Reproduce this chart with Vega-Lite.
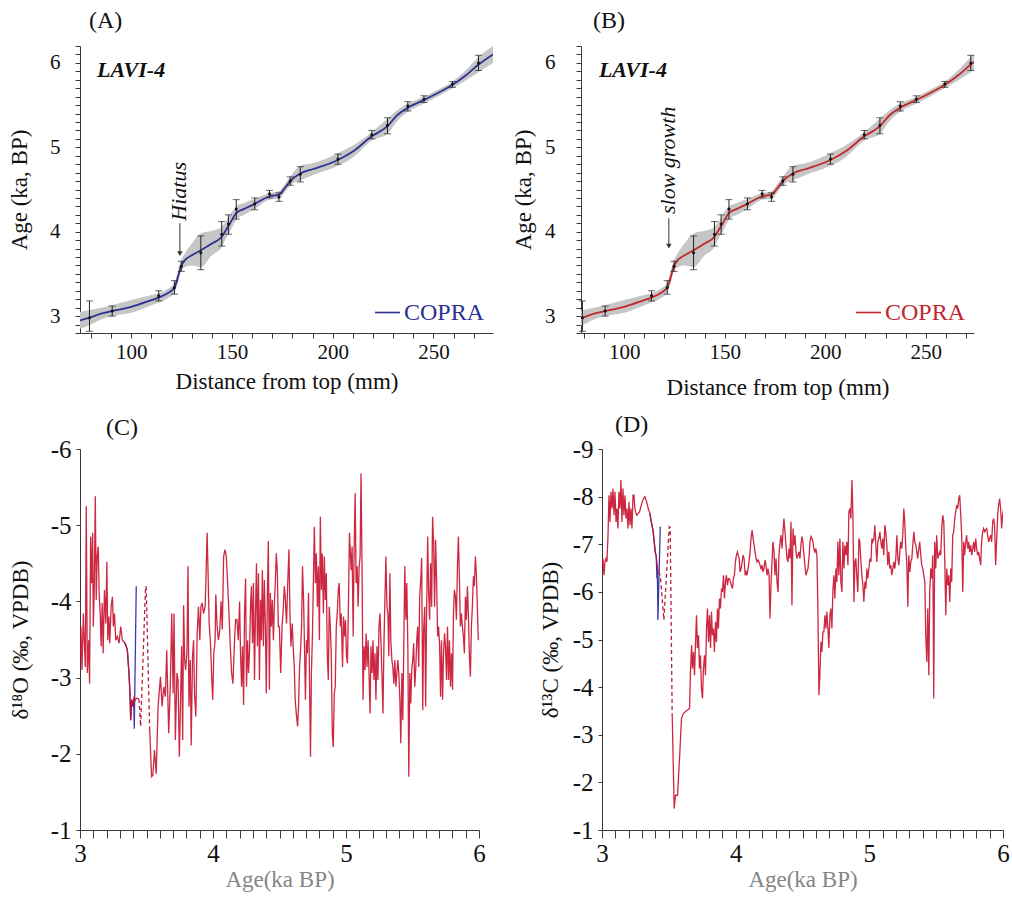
{
"$schema": "https://vega.github.io/schema/vega-lite/v6.json",
"padding": {"left": 8, "top": 8, "right": 5, "bottom": 5},
"config": {
 "font": "Liberation Serif",
 "view": {"stroke": null},
 "axis": {"labelFont": "Liberation Serif", "titleFont": "Liberation Serif", "grid": false, "domainColor": "#3a3a3a", "tickColor": "#3a3a3a", "labelColor": "#111", "titleColor": "#111", "titleFontWeight": "normal", "labelFlush": false, "labelOverlap": false},
 "title": {"font": "Liberation Serif", "fontWeight": "normal", "fontSize": 24, "anchor": "start", "frame": "group", "baseline": "alphabetic", "color": "#111"},
 "legend": {"orient": "bottom-right", "title": null, "symbolType": "stroke", "symbolSize": 625, "symbolStrokeWidth": 1.6, "labelFontSize": 24, "labelFont": "Liberation Serif", "offset": 8, "padding": 0, "labelOffset": 3}
},
"datasets": {
 "ages": [
  {"d":79.2,"m":2.98,"lo":2.82,"hi":3.18},{"d":90.5,"m":3.06,"lo":3.0,"hi":3.12},{"d":113.6,"m":3.24,"lo":3.18,"hi":3.3},{"d":121.4,"m":3.34,"lo":3.26,"hi":3.42},{"d":124.8,"m":3.59,"lo":3.53,"hi":3.65},{"d":134.5,"m":3.75,"lo":3.55,"hi":3.95},{"d":144.9,"m":3.97,"lo":3.83,"hi":4.12},{"d":148.2,"m":4.09,"lo":3.97,"hi":4.2},{"d":152.1,"m":4.27,"lo":4.15,"hi":4.38},{"d":161.3,"m":4.33,"lo":4.26,"hi":4.4},{"d":168.6,"m":4.45,"lo":4.4,"hi":4.49},{"d":173.3,"m":4.41,"lo":4.36,"hi":4.46},{"d":178.9,"m":4.6,"lo":4.55,"hi":4.65},{"d":183.9,"m":4.68,"lo":4.59,"hi":4.77},{"d":202.6,"m":4.86,"lo":4.8,"hi":4.92},{"d":219.4,"m":5.15,"lo":5.1,"hi":5.2},{"d":227.2,"m":5.26,"lo":5.16,"hi":5.35},{"d":237.3,"m":5.49,"lo":5.43,"hi":5.54},{"d":245.3,"m":5.57,"lo":5.53,"hi":5.61},{"d":259.5,"m":5.75,"lo":5.71,"hi":5.78},{"d":272.4,"m":6.0,"lo":5.91,"hi":6.09}
 ],
 "model": [
  {"d":74.5,"m":2.95,"l":2.85,"h":3.05},{"d":79,"m":2.98,"l":2.89,"h":3.07},{"d":85,"m":3.03,"l":2.96,"h":3.1},{"d":90.5,"m":3.06,"l":3.0,"h":3.13},{"d":100,"m":3.11,"l":3.04,"h":3.19},{"d":110,"m":3.19,"l":3.13,"h":3.25},{"d":113.6,"m":3.22,"l":3.16,"h":3.27},{"d":118,"m":3.27,"l":3.21,"h":3.32},{"d":121.4,"m":3.34,"l":3.28,"h":3.4},{"d":123,"m":3.45,"l":3.38,"h":3.52},{"d":124.5,"m":3.58,"l":3.52,"h":3.65},{"d":126.5,"m":3.66,"l":3.58,"h":3.74},{"d":130,"m":3.72,"l":3.6,"h":3.86},{"d":134.5,"m":3.78,"l":3.58,"h":3.98},{"d":140,"m":3.86,"l":3.72,"h":4.01},{"d":144.9,"m":3.94,"l":3.82,"h":4.06},{"d":147,"m":4.02,"l":3.92,"h":4.12},{"d":149,"m":4.1,"l":4.0,"h":4.2},{"d":152.1,"m":4.22,"l":4.14,"h":4.3},{"d":156,"m":4.27,"l":4.2,"h":4.34},{"d":161.3,"m":4.33,"l":4.27,"h":4.39},{"d":168.6,"m":4.42,"l":4.38,"h":4.46},{"d":173.3,"m":4.44,"l":4.39,"h":4.48},{"d":176,"m":4.51,"l":4.46,"h":4.56},{"d":178.9,"m":4.6,"l":4.55,"h":4.65},{"d":183.9,"m":4.69,"l":4.61,"h":4.78},{"d":190,"m":4.74,"l":4.67,"h":4.81},{"d":202.6,"m":4.85,"l":4.78,"h":4.93},{"d":210,"m":4.95,"l":4.88,"h":5.02},{"d":219.4,"m":5.13,"l":5.08,"h":5.18},{"d":227.2,"m":5.25,"l":5.16,"h":5.34},{"d":232,"m":5.38,"l":5.31,"h":5.44},{"d":237.3,"m":5.47,"l":5.42,"h":5.52},{"d":245.3,"m":5.56,"l":5.52,"h":5.6},{"d":252,"m":5.64,"l":5.6,"h":5.68},{"d":259.5,"m":5.74,"l":5.7,"h":5.78},{"d":266,"m":5.85,"l":5.79,"h":5.91},{"d":272.4,"m":5.98,"l":5.89,"h":6.07},{"d":279.6,"m":6.1,"l":6.0,"h":6.2}
 ],
 "o18": [
  {"s":1,"a":3.000,"v":-3.23},{"s":1,"a":3.007,"v":-3.67},{"s":1,"a":3.015,"v":-3.10},{"s":1,"a":3.025,"v":-3.84},{"s":1,"a":3.032,"v":-3.49},{"s":1,"a":3.040,"v":-3.14},{"s":1,"a":3.047,"v":-5.25},{"s":1,"a":3.055,"v":-3.06},{"s":1,"a":3.065,"v":-3.49},{"s":1,"a":3.072,"v":-2.92},{"s":1,"a":3.080,"v":-4.85},{"s":1,"a":3.087,"v":-4.24},{"s":1,"a":3.095,"v":-4.90},{"s":1,"a":3.100,"v":-3.67},{"s":1,"a":3.107,"v":-4.15},{"s":1,"a":3.115,"v":-5.38},{"s":1,"a":3.122,"v":-4.02},{"s":1,"a":3.129,"v":-4.59},{"s":1,"a":3.137,"v":-4.72},{"s":1,"a":3.144,"v":-4.11},{"s":1,"a":3.152,"v":-3.84},{"s":1,"a":3.159,"v":-3.41},{"s":1,"a":3.167,"v":-3.98},{"s":1,"a":3.174,"v":-3.32},{"s":1,"a":3.184,"v":-4.15},{"s":1,"a":3.194,"v":-3.71},{"s":1,"a":3.202,"v":-4.52},{"s":1,"a":3.209,"v":-3.49},{"s":1,"a":3.217,"v":-3.80},{"s":1,"a":3.224,"v":-3.45},{"s":1,"a":3.234,"v":-3.93},{"s":1,"a":3.244,"v":-4.06},{"s":1,"a":3.251,"v":-3.67},{"s":1,"a":3.259,"v":-3.84},{"s":1,"a":3.269,"v":-3.49},{"s":1,"a":3.281,"v":-3.54},{"s":1,"a":3.294,"v":-3.45},{"s":1,"a":3.306,"v":-3.67},{"s":1,"a":3.319,"v":-3.49},{"s":1,"a":3.331,"v":-3.47},{"s":1,"a":3.344,"v":-3.43},{"s":1,"a":3.356,"v":-3.36},{"s":1,"a":3.368,"v":-3.06},{"s":1,"a":3.376,"v":-2.79},{"s":1,"a":3.381,"v":-2.44},{"s":1,"a":3.388,"v":-2.71},{"s":1,"a":3.398,"v":-2.62},{"s":1,"a":3.406,"v":-2.75},{"s":1,"a":3.413,"v":-2.70},{"s":1,"a":3.425,"v":-2.73},{"s":1,"a":3.443,"v":-2.72},
  {"s":2,"a":3.523,"v":-2.36},{"s":2,"a":3.538,"v":-1.70},{"s":2,"a":3.548,"v":-1.72},{"s":2,"a":3.560,"v":-2.05},{"s":2,"a":3.573,"v":-1.74},{"s":2,"a":3.587,"v":-2.62},{"s":2,"a":3.605,"v":-3.01},{"s":2,"a":3.617,"v":-2.62},{"s":2,"a":3.630,"v":-2.88},{"s":2,"a":3.642,"v":-2.75},{"s":2,"a":3.652,"v":-3.36},{"s":2,"a":3.667,"v":-2.27},{"s":2,"a":3.680,"v":-2.97},{"s":2,"a":3.690,"v":-3.84},{"s":2,"a":3.700,"v":-2.79},{"s":2,"a":3.707,"v":-3.84},{"s":2,"a":3.717,"v":-2.18},{"s":2,"a":3.729,"v":-3.06},{"s":2,"a":3.737,"v":-2.97},{"s":2,"a":3.747,"v":-1.96},{"s":2,"a":3.757,"v":-2.79},{"s":2,"a":3.764,"v":-3.41},{"s":2,"a":3.772,"v":-2.18},{"s":2,"a":3.779,"v":-3.95},{"s":2,"a":3.787,"v":-3.23},{"s":2,"a":3.794,"v":-3.10},{"s":2,"a":3.804,"v":-3.32},{"s":2,"a":3.812,"v":-4.46},{"s":2,"a":3.819,"v":-2.62},{"s":2,"a":3.829,"v":-3.23},{"s":2,"a":3.836,"v":-2.11},{"s":2,"a":3.846,"v":-3.28},{"s":2,"a":3.854,"v":-3.49},{"s":2,"a":3.861,"v":-2.79},{"s":2,"a":3.871,"v":-2.49},{"s":2,"a":3.881,"v":-3.58},{"s":2,"a":3.891,"v":-3.93},{"s":2,"a":3.901,"v":-3.49},{"s":2,"a":3.909,"v":-3.93},{"s":2,"a":3.919,"v":-3.98},{"s":2,"a":3.929,"v":-3.84},{"s":2,"a":3.941,"v":-3.93},{"s":2,"a":3.948,"v":-4.37},{"s":2,"a":3.956,"v":-4.90},{"s":2,"a":3.963,"v":-4.37},{"s":2,"a":3.971,"v":-3.71},{"s":2,"a":3.981,"v":-3.45},{"s":2,"a":3.991,"v":-2.97},{"s":2,"a":3.998,"v":-2.71},{"s":2,"a":4.006,"v":-3.32},{"s":2,"a":4.016,"v":-3.49},
  {"s":2,"a":4.021,"v":-4.09},{"s":2,"a":4.031,"v":-3.67},{"s":2,"a":4.041,"v":-3.49},{"s":2,"a":4.051,"v":-3.63},{"s":2,"a":4.061,"v":-4.00},{"s":2,"a":4.070,"v":-3.63},{"s":2,"a":4.080,"v":-4.59},{"s":2,"a":4.090,"v":-4.68},{"s":2,"a":4.100,"v":-4.59},{"s":2,"a":4.110,"v":-4.24},{"s":2,"a":4.120,"v":-3.84},{"s":2,"a":4.130,"v":-3.41},{"s":2,"a":4.140,"v":-3.06},{"s":2,"a":4.150,"v":-2.92},{"s":2,"a":4.160,"v":-3.41},{"s":2,"a":4.170,"v":-3.76},{"s":2,"a":4.180,"v":-3.76},{"s":2,"a":4.190,"v":-3.49},{"s":2,"a":4.200,"v":-4.00},{"s":2,"a":4.207,"v":-3.32},{"s":2,"a":4.215,"v":-2.88},{"s":2,"a":4.222,"v":-3.41},{"s":2,"a":4.230,"v":-2.64},{"s":2,"a":4.237,"v":-3.84},{"s":2,"a":4.245,"v":-4.30},{"s":2,"a":4.252,"v":-2.88},{"s":2,"a":4.260,"v":-3.49},{"s":2,"a":4.267,"v":-3.06},{"s":2,"a":4.274,"v":-3.32},{"s":2,"a":4.282,"v":-3.93},{"s":2,"a":4.289,"v":-4.20},{"s":2,"a":4.297,"v":-3.45},{"s":2,"a":4.304,"v":-4.24},{"s":2,"a":4.312,"v":-2.97},{"s":2,"a":4.319,"v":-3.80},{"s":2,"a":4.327,"v":-4.50},{"s":2,"a":4.334,"v":-3.41},{"s":2,"a":4.342,"v":-4.37},{"s":2,"a":4.349,"v":-2.97},{"s":2,"a":4.357,"v":-4.02},{"s":2,"a":4.364,"v":-3.49},{"s":2,"a":4.371,"v":-4.41},{"s":2,"a":4.379,"v":-3.41},{"s":2,"a":4.386,"v":-4.28},{"s":2,"a":4.394,"v":-3.67},{"s":2,"a":4.401,"v":-2.79},{"s":2,"a":4.409,"v":-4.11},{"s":2,"a":4.416,"v":-4.79},{"s":2,"a":4.424,"v":-2.84},{"s":2,"a":4.431,"v":-4.11},{"s":2,"a":4.439,"v":-3.67},{"s":2,"a":4.446,"v":-4.02},{"s":2,"a":4.454,"v":-3.49},{"s":2,"a":4.461,"v":-3.93},{"s":2,"a":4.469,"v":-4.28},{"s":2,"a":4.476,"v":-4.63},{"s":2,"a":4.484,"v":-4.37},{"s":2,"a":4.491,"v":-3.67},{"s":2,"a":4.499,"v":-3.67},{"s":2,"a":4.509,"v":-3.06},{"s":2,"a":4.519,"v":-3.67},{"s":2,"a":4.528,"v":-3.89},{"s":2,"a":4.536,"v":-4.20},{"s":2,"a":4.543,"v":-4.06},{"s":2,"a":4.553,"v":-3.71},{"s":2,"a":4.561,"v":-4.20},{"s":2,"a":4.571,"v":-4.68},{"s":2,"a":4.578,"v":-3.89},{"s":2,"a":4.586,"v":-3.41},{"s":2,"a":4.596,"v":-3.71},{"s":2,"a":4.603,"v":-3.41},{"s":2,"a":4.611,"v":-3.14},{"s":2,"a":4.618,"v":-2.71},{"s":2,"a":4.626,"v":-2.53},{"s":2,"a":4.636,"v":-2.36},{"s":2,"a":4.643,"v":-2.62},{"s":2,"a":4.651,"v":-3.14},{"s":2,"a":4.658,"v":-3.36},{"s":2,"a":4.666,"v":-3.67},{"s":2,"a":4.673,"v":-4.46},{"s":2,"a":4.681,"v":-4.02},{"s":2,"a":4.688,"v":-3.41},{"s":2,"a":4.695,"v":-2.71},{"s":2,"a":4.703,"v":-3.49},{"s":2,"a":4.710,"v":-3.32},{"s":2,"a":4.718,"v":-4.11},{"s":2,"a":4.725,"v":-3.06},{"s":2,"a":4.733,"v":-1.96},{"s":2,"a":4.740,"v":-3.06},{"s":2,"a":4.748,"v":-3.58},{"s":2,"a":4.755,"v":-4.28},{"s":2,"a":4.762,"v":-4.98},{"s":2,"a":4.770,"v":-4.24},{"s":2,"a":4.777,"v":-4.63},{"s":2,"a":4.785,"v":-3.93},{"s":2,"a":4.792,"v":-4.46},{"s":2,"a":4.800,"v":-3.49},{"s":2,"a":4.807,"v":-5.11},{"s":2,"a":4.815,"v":-4.15},{"s":2,"a":4.822,"v":-4.63},{"s":2,"a":4.830,"v":-3.84},{"s":2,"a":4.837,"v":-4.59},{"s":2,"a":4.845,"v":-4.02},{"s":2,"a":4.852,"v":-4.37},{"s":2,"a":4.859,"v":-3.32},{"s":2,"a":4.867,"v":-2.97},{"s":2,"a":4.874,"v":-3.93},{"s":2,"a":4.882,"v":-3.67},{"s":2,"a":4.889,"v":-3.32},{"s":2,"a":4.897,"v":-2.27},{"s":2,"a":4.904,"v":-2.09},{"s":2,"a":4.912,"v":-2.79},{"s":2,"a":4.919,"v":-2.88},{"s":2,"a":4.927,"v":-3.67},{"s":2,"a":4.934,"v":-3.84},{"s":2,"a":4.942,"v":-4.15},{"s":2,"a":4.949,"v":-4.24},{"s":2,"a":4.957,"v":-3.67},{"s":2,"a":4.964,"v":-3.84},{"s":2,"a":4.974,"v":-3.14},{"s":2,"a":4.981,"v":-3.80},{"s":2,"a":4.989,"v":-3.54},{"s":2,"a":4.996,"v":-3.76},{"s":2,"a":5.004,"v":-3.28},{"s":2,"a":5.011,"v":-3.19},{"s":2,"a":5.018,"v":-3.93},{"s":2,"a":5.026,"v":-4.90},
  {"s":2,"a":5.039,"v":-4.41},{"s":2,"a":5.046,"v":-4.72},{"s":2,"a":5.054,"v":-3.54},{"s":2,"a":5.061,"v":-4.68},{"s":2,"a":5.069,"v":-5.42},{"s":2,"a":5.076,"v":-4.24},{"s":2,"a":5.084,"v":-4.46},{"s":2,"a":5.091,"v":-3.93},{"s":2,"a":5.099,"v":-4.46},{"s":2,"a":5.106,"v":-4.59},{"s":2,"a":5.113,"v":-5.68},{"s":2,"a":5.121,"v":-4.37},{"s":2,"a":5.128,"v":-2.71},{"s":2,"a":5.136,"v":-3.41},{"s":2,"a":5.143,"v":-3.10},{"s":2,"a":5.151,"v":-3.58},{"s":2,"a":5.158,"v":-3.14},{"s":2,"a":5.166,"v":-3.49},{"s":2,"a":5.173,"v":-3.06},{"s":2,"a":5.181,"v":-2.53},{"s":2,"a":5.188,"v":-3.41},{"s":2,"a":5.196,"v":-3.06},{"s":2,"a":5.203,"v":-3.49},{"s":2,"a":5.210,"v":-2.97},{"s":2,"a":5.218,"v":-3.32},{"s":2,"a":5.225,"v":-2.71},{"s":2,"a":5.233,"v":-3.41},{"s":2,"a":5.240,"v":-2.97},{"s":2,"a":5.248,"v":-3.67},{"s":2,"a":5.255,"v":-3.84},{"s":2,"a":5.263,"v":-3.45},{"s":2,"a":5.270,"v":-3.06},{"s":2,"a":5.278,"v":-2.53},{"s":2,"a":5.285,"v":-3.41},{"s":2,"a":5.293,"v":-4.06},{"s":2,"a":5.300,"v":-4.59},{"s":2,"a":5.308,"v":-3.93},{"s":2,"a":5.315,"v":-3.84},{"s":2,"a":5.322,"v":-3.28},{"s":2,"a":5.330,"v":-4.37},{"s":2,"a":5.337,"v":-3.49},{"s":2,"a":5.345,"v":-3.23},{"s":2,"a":5.352,"v":-3.14},{"s":2,"a":5.360,"v":-2.92},{"s":2,"a":5.367,"v":-3.23},{"s":2,"a":5.375,"v":-2.88},{"s":2,"a":5.382,"v":-3.06},{"s":2,"a":5.390,"v":-3.23},{"s":2,"a":5.397,"v":-3.06},{"s":2,"a":5.405,"v":-2.71},{"s":2,"a":5.412,"v":-2.14},{"s":2,"a":5.420,"v":-3.06},{"s":2,"a":5.427,"v":-2.44},{"s":2,"a":5.435,"v":-3.49},{"s":2,"a":5.442,"v":-4.46},{"s":2,"a":5.450,"v":-3.76},{"s":2,"a":5.457,"v":-4.24},{"s":2,"a":5.465,"v":-3.41},{"s":2,"a":5.472,"v":-1.70},{"s":2,"a":5.480,"v":-3.06},{"s":2,"a":5.487,"v":-2.66},{"s":2,"a":5.494,"v":-3.10},{"s":2,"a":5.502,"v":-3.23},{"s":2,"a":5.509,"v":-3.45},{"s":2,"a":5.517,"v":-2.88},{"s":2,"a":5.524,"v":-3.10},{"s":2,"a":5.532,"v":-3.49},{"s":2,"a":5.539,"v":-3.67},{"s":2,"a":5.547,"v":-3.14},{"s":2,"a":5.554,"v":-4.06},{"s":2,"a":5.562,"v":-4.28},{"s":2,"a":5.569,"v":-4.57},{"s":2,"a":5.577,"v":-2.57},{"s":2,"a":5.584,"v":-3.63},{"s":2,"a":5.592,"v":-3.93},{"s":2,"a":5.599,"v":-2.62},{"s":2,"a":5.606,"v":-3.84},{"s":2,"a":5.614,"v":-4.85},{"s":2,"a":5.621,"v":-4.15},{"s":2,"a":5.629,"v":-3.76},{"s":2,"a":5.636,"v":-4.50},{"s":2,"a":5.644,"v":-3.93},{"s":2,"a":5.651,"v":-5.11},{"s":2,"a":5.659,"v":-4.76},{"s":2,"a":5.666,"v":-3.93},{"s":2,"a":5.674,"v":-4.81},{"s":2,"a":5.681,"v":-4.28},{"s":2,"a":5.689,"v":-3.54},{"s":2,"a":5.696,"v":-3.67},{"s":2,"a":5.704,"v":-3.41},{"s":2,"a":5.711,"v":-2.75},{"s":2,"a":5.718,"v":-3.49},{"s":2,"a":5.726,"v":-2.71},{"s":2,"a":5.733,"v":-3.28},{"s":2,"a":5.741,"v":-3.58},{"s":2,"a":5.748,"v":-3.41},{"s":2,"a":5.756,"v":-2.97},{"s":2,"a":5.763,"v":-3.67},{"s":2,"a":5.771,"v":-2.97},{"s":2,"a":5.778,"v":-3.49},{"s":2,"a":5.786,"v":-2.88},{"s":2,"a":5.793,"v":-3.32},{"s":2,"a":5.801,"v":-2.84},{"s":2,"a":5.808,"v":-3.84},{"s":2,"a":5.815,"v":-4.15},{"s":2,"a":5.823,"v":-4.06},{"s":2,"a":5.830,"v":-3.76},{"s":2,"a":5.838,"v":-4.46},{"s":2,"a":5.845,"v":-4.85},{"s":2,"a":5.853,"v":-4.28},{"s":2,"a":5.860,"v":-3.67},{"s":2,"a":5.868,"v":-3.84},{"s":2,"a":5.875,"v":-3.67},{"s":2,"a":5.883,"v":-3.54},{"s":2,"a":5.890,"v":-3.32},{"s":2,"a":5.898,"v":-4.06},{"s":2,"a":5.905,"v":-3.76},{"s":2,"a":5.913,"v":-4.20},{"s":2,"a":5.920,"v":-3.84},{"s":2,"a":5.928,"v":-3.28},{"s":2,"a":5.935,"v":-3.01},{"s":2,"a":5.943,"v":-3.67},{"s":2,"a":5.950,"v":-3.93},{"s":2,"a":5.958,"v":-4.33},{"s":2,"a":5.965,"v":-4.20},{"s":2,"a":5.973,"v":-4.59},{"s":2,"a":5.980,"v":-4.37},{"s":2,"a":5.988,"v":-3.89},{"s":2,"a":5.995,"v":-3.49}
 ],
 "o18blue": [
  {"a":3.331,"v":-3.47},{"a":3.344,"v":-3.43},{"a":3.356,"v":-3.36},{"a":3.368,"v":-3.06},{"a":3.376,"v":-2.79},{"a":3.381,"v":-2.44},{"a":3.388,"v":-2.71},{"a":3.398,"v":-2.62},{"a":3.404,"v":-2.72},{"a":3.408,"v":-2.33},{"a":3.423,"v":-4.20}
 ],
 "o18dash": [
  {"a":3.443,"v":-2.72},{"a":3.456,"v":-2.36},{"a":3.493,"v":-4.20},{"a":3.498,"v":-4.18},{"a":3.523,"v":-2.36}
 ],
 "c13": [
  {"s":1,"a":3.000,"v":-6.49},{"s":1,"a":3.007,"v":-6.70},{"s":1,"a":3.015,"v":-6.35},{"s":1,"a":3.022,"v":-6.63},{"s":1,"a":3.030,"v":-6.70},{"s":1,"a":3.037,"v":-6.63},{"s":1,"a":3.045,"v":-7.19},{"s":1,"a":3.052,"v":-8.03},{"s":1,"a":3.060,"v":-7.47},{"s":1,"a":3.067,"v":-8.10},{"s":1,"a":3.075,"v":-7.75},{"s":1,"a":3.082,"v":-8.17},{"s":1,"a":3.090,"v":-7.61},{"s":1,"a":3.097,"v":-8.10},{"s":1,"a":3.105,"v":-7.47},{"s":1,"a":3.112,"v":-7.75},{"s":1,"a":3.119,"v":-7.33},{"s":1,"a":3.127,"v":-8.10},{"s":1,"a":3.134,"v":-7.75},{"s":1,"a":3.142,"v":-8.35},{"s":1,"a":3.149,"v":-7.47},{"s":1,"a":3.157,"v":-8.17},{"s":1,"a":3.164,"v":-7.61},{"s":1,"a":3.172,"v":-8.03},{"s":1,"a":3.179,"v":-7.54},{"s":1,"a":3.187,"v":-7.75},{"s":1,"a":3.194,"v":-7.33},{"s":1,"a":3.202,"v":-7.89},{"s":1,"a":3.209,"v":-7.40},{"s":1,"a":3.217,"v":-7.75},{"s":1,"a":3.224,"v":-7.33},{"s":1,"a":3.232,"v":-8.03},{"s":1,"a":3.239,"v":-8.03},{"s":1,"a":3.246,"v":-7.75},{"s":1,"a":3.254,"v":-7.65},{"s":1,"a":3.261,"v":-7.61},{"s":1,"a":3.271,"v":-7.65},{"s":1,"a":3.281,"v":-7.68},{"s":1,"a":3.291,"v":-7.79},{"s":1,"a":3.301,"v":-7.89},{"s":1,"a":3.311,"v":-7.96},{"s":1,"a":3.321,"v":-8.00},{"s":1,"a":3.334,"v":-7.89},{"s":1,"a":3.346,"v":-7.75},{"s":1,"a":3.358,"v":-7.65},{"s":1,"a":3.371,"v":-7.44},{"s":1,"a":3.381,"v":-7.30},{"s":1,"a":3.391,"v":-7.05},{"s":1,"a":3.398,"v":-6.84},{"s":1,"a":3.406,"v":-6.74},{"s":1,"a":3.413,"v":-6.56},{"s":1,"a":3.421,"v":-6.42},
  {"s":2,"a":3.525,"v":-3.45},{"s":2,"a":3.540,"v":-1.45},{"s":2,"a":3.550,"v":-1.73},{"s":2,"a":3.565,"v":-1.73},{"s":2,"a":3.580,"v":-2.50},{"s":2,"a":3.595,"v":-3.35},{"s":2,"a":3.610,"v":-3.45},{"s":2,"a":3.625,"v":-3.49},{"s":2,"a":3.640,"v":-3.52},{"s":2,"a":3.655,"v":-3.55},{"s":2,"a":3.662,"v":-4.32},{"s":2,"a":3.670,"v":-4.88},{"s":2,"a":3.677,"v":-4.39},{"s":2,"a":3.685,"v":-4.74},{"s":2,"a":3.692,"v":-4.25},{"s":2,"a":3.700,"v":-4.95},{"s":2,"a":3.707,"v":-5.51},{"s":2,"a":3.714,"v":-4.82},{"s":2,"a":3.722,"v":-5.09},{"s":2,"a":3.729,"v":-4.39},{"s":2,"a":3.737,"v":-4.67},{"s":2,"a":3.744,"v":-3.97},{"s":2,"a":3.752,"v":-3.76},{"s":2,"a":3.759,"v":-4.39},{"s":2,"a":3.767,"v":-4.67},{"s":2,"a":3.774,"v":-4.25},{"s":2,"a":3.782,"v":-5.23},{"s":2,"a":3.789,"v":-5.65},{"s":2,"a":3.797,"v":-4.95},{"s":2,"a":3.804,"v":-5.51},{"s":2,"a":3.812,"v":-4.82},{"s":2,"a":3.819,"v":-5.58},{"s":2,"a":3.826,"v":-5.09},{"s":2,"a":3.834,"v":-5.23},{"s":2,"a":3.841,"v":-4.74},{"s":2,"a":3.849,"v":-5.37},{"s":2,"a":3.856,"v":-4.95},{"s":2,"a":3.864,"v":-5.65},{"s":2,"a":3.871,"v":-5.23},{"s":2,"a":3.879,"v":-5.86},{"s":2,"a":3.886,"v":-5.65},{"s":2,"a":3.894,"v":-6.07},{"s":2,"a":3.901,"v":-6.00},{"s":2,"a":3.909,"v":-6.35},{"s":2,"a":3.916,"v":-5.86},{"s":2,"a":3.924,"v":-6.21},{"s":2,"a":3.931,"v":-6.35},{"s":2,"a":3.939,"v":-6.14},{"s":2,"a":3.946,"v":-6.28},{"s":2,"a":3.953,"v":-6.28},{"s":2,"a":3.961,"v":-6.21},{"s":2,"a":3.968,"v":-6.14},{"s":2,"a":3.976,"v":-6.07},{"s":2,"a":3.983,"v":-6.28},{"s":2,"a":3.991,"v":-6.35},{"s":2,"a":3.998,"v":-6.63},{"s":2,"a":4.006,"v":-6.77},{"s":2,"a":4.013,"v":-6.84},
  {"s":2,"a":4.026,"v":-6.70},{"s":2,"a":4.033,"v":-6.42},{"s":2,"a":4.041,"v":-6.49},{"s":2,"a":4.048,"v":-6.63},{"s":2,"a":4.056,"v":-6.77},{"s":2,"a":4.063,"v":-6.70},{"s":2,"a":4.071,"v":-6.35},{"s":2,"a":4.078,"v":-6.42},{"s":2,"a":4.085,"v":-6.35},{"s":2,"a":4.093,"v":-6.49},{"s":2,"a":4.100,"v":-6.63},{"s":2,"a":4.108,"v":-6.84},{"s":2,"a":4.115,"v":-7.12},{"s":2,"a":4.123,"v":-7.30},{"s":2,"a":4.130,"v":-7.12},{"s":2,"a":4.138,"v":-6.98},{"s":2,"a":4.145,"v":-6.84},{"s":2,"a":4.153,"v":-6.70},{"s":2,"a":4.160,"v":-6.63},{"s":2,"a":4.167,"v":-6.67},{"s":2,"a":4.175,"v":-6.63},{"s":2,"a":4.182,"v":-6.56},{"s":2,"a":4.190,"v":-6.49},{"s":2,"a":4.197,"v":-6.56},{"s":2,"a":4.205,"v":-6.42},{"s":2,"a":4.212,"v":-6.49},{"s":2,"a":4.220,"v":-6.67},{"s":2,"a":4.227,"v":-6.56},{"s":2,"a":4.235,"v":-6.35},{"s":2,"a":4.242,"v":-6.49},{"s":2,"a":4.250,"v":-6.35},{"s":2,"a":4.257,"v":-5.44},{"s":2,"a":4.265,"v":-6.21},{"s":2,"a":4.272,"v":-6.63},{"s":2,"a":4.279,"v":-7.05},{"s":2,"a":4.287,"v":-6.84},{"s":2,"a":4.294,"v":-6.35},{"s":2,"a":4.302,"v":-6.70},{"s":2,"a":4.309,"v":-6.21},{"s":2,"a":4.317,"v":-6.00},{"s":2,"a":4.324,"v":-6.77},{"s":2,"a":4.332,"v":-7.05},{"s":2,"a":4.339,"v":-7.19},{"s":2,"a":4.347,"v":-6.91},{"s":2,"a":4.354,"v":-7.26},{"s":2,"a":4.361,"v":-7.54},{"s":2,"a":4.369,"v":-7.26},{"s":2,"a":4.376,"v":-6.98},{"s":2,"a":4.384,"v":-6.70},{"s":2,"a":4.391,"v":-6.63},{"s":2,"a":4.399,"v":-6.91},{"s":2,"a":4.406,"v":-6.70},{"s":2,"a":4.414,"v":-7.47},{"s":2,"a":4.421,"v":-5.72},{"s":2,"a":4.429,"v":-7.33},{"s":2,"a":4.436,"v":-6.98},{"s":2,"a":4.444,"v":-7.19},{"s":2,"a":4.451,"v":-6.84},{"s":2,"a":4.459,"v":-6.70},{"s":2,"a":4.466,"v":-6.77},{"s":2,"a":4.474,"v":-6.84},{"s":2,"a":4.481,"v":-6.70},{"s":2,"a":4.488,"v":-6.98},{"s":2,"a":4.496,"v":-7.16},{"s":2,"a":4.503,"v":-7.05},{"s":2,"a":4.511,"v":-6.77},{"s":2,"a":4.518,"v":-6.56},{"s":2,"a":4.526,"v":-6.35},{"s":2,"a":4.533,"v":-6.42},{"s":2,"a":4.541,"v":-6.49},{"s":2,"a":4.548,"v":-6.70},{"s":2,"a":4.556,"v":-7.05},{"s":2,"a":4.563,"v":-7.16},{"s":2,"a":4.571,"v":-7.12},{"s":2,"a":4.578,"v":-7.05},{"s":2,"a":4.585,"v":-6.91},{"s":2,"a":4.593,"v":-6.84},{"s":2,"a":4.600,"v":-6.91},{"s":2,"a":4.608,"v":-6.77},{"s":2,"a":4.615,"v":-5.65},{"s":2,"a":4.623,"v":-3.83},{"s":2,"a":4.630,"v":-4.25},{"s":2,"a":4.638,"v":-4.95},{"s":2,"a":4.645,"v":-4.74},{"s":2,"a":4.653,"v":-5.16},{"s":2,"a":4.660,"v":-5.16},{"s":2,"a":4.668,"v":-5.51},{"s":2,"a":4.675,"v":-5.23},{"s":2,"a":4.682,"v":-5.58},{"s":2,"a":4.690,"v":-5.23},{"s":2,"a":4.697,"v":-4.82},{"s":2,"a":4.705,"v":-5.51},{"s":2,"a":4.712,"v":-5.65},{"s":2,"a":4.720,"v":-5.23},{"s":2,"a":4.727,"v":-6.00},{"s":2,"a":4.735,"v":-6.35},{"s":2,"a":4.742,"v":-5.86},{"s":2,"a":4.750,"v":-6.49},{"s":2,"a":4.757,"v":-6.21},{"s":2,"a":4.765,"v":-7.05},{"s":2,"a":4.772,"v":-6.35},{"s":2,"a":4.780,"v":-7.12},{"s":2,"a":4.787,"v":-6.21},{"s":2,"a":4.795,"v":-6.00},{"s":2,"a":4.802,"v":-7.05},{"s":2,"a":4.810,"v":-6.49},{"s":2,"a":4.817,"v":-6.98},{"s":2,"a":4.825,"v":-6.77},{"s":2,"a":4.832,"v":-7.05},{"s":2,"a":4.840,"v":-6.56},{"s":2,"a":4.847,"v":-7.68},{"s":2,"a":4.855,"v":-7.75},{"s":2,"a":4.862,"v":-7.54},{"s":2,"a":4.870,"v":-8.35},{"s":2,"a":4.877,"v":-7.61},{"s":2,"a":4.885,"v":-5.79},{"s":2,"a":4.892,"v":-6.63},{"s":2,"a":4.899,"v":-6.70},{"s":2,"a":4.907,"v":-6.28},{"s":2,"a":4.914,"v":-6.00},{"s":2,"a":4.922,"v":-7.12},{"s":2,"a":4.929,"v":-7.05},{"s":2,"a":4.937,"v":-6.63},{"s":2,"a":4.944,"v":-6.35},{"s":2,"a":4.952,"v":-6.14},{"s":2,"a":4.959,"v":-5.79},{"s":2,"a":4.967,"v":-6.21},{"s":2,"a":4.974,"v":-6.07},{"s":2,"a":4.982,"v":-6.49},{"s":2,"a":4.989,"v":-6.28},{"s":2,"a":4.997,"v":-6.49},{"s":2,"a":5.004,"v":-6.70},{"s":2,"a":5.012,"v":-6.63},{"s":2,"a":5.019,"v":-7.12},{"s":2,"a":5.026,"v":-7.05},
  {"s":2,"a":5.034,"v":-7.12},{"s":2,"a":5.041,"v":-7.40},{"s":2,"a":5.049,"v":-6.98},{"s":2,"a":5.056,"v":-6.63},{"s":2,"a":5.064,"v":-7.05},{"s":2,"a":5.071,"v":-7.12},{"s":2,"a":5.079,"v":-7.26},{"s":2,"a":5.086,"v":-7.05},{"s":2,"a":5.094,"v":-6.91},{"s":2,"a":5.101,"v":-7.12},{"s":2,"a":5.108,"v":-6.77},{"s":2,"a":5.116,"v":-7.40},{"s":2,"a":5.123,"v":-7.26},{"s":2,"a":5.131,"v":-6.98},{"s":2,"a":5.138,"v":-6.56},{"s":2,"a":5.146,"v":-6.84},{"s":2,"a":5.153,"v":-6.49},{"s":2,"a":5.161,"v":-6.56},{"s":2,"a":5.168,"v":-6.35},{"s":2,"a":5.176,"v":-6.49},{"s":2,"a":5.183,"v":-6.63},{"s":2,"a":5.191,"v":-6.49},{"s":2,"a":5.198,"v":-6.70},{"s":2,"a":5.206,"v":-7.19},{"s":2,"a":5.213,"v":-6.70},{"s":2,"a":5.221,"v":-6.56},{"s":2,"a":5.228,"v":-6.84},{"s":2,"a":5.235,"v":-7.05},{"s":2,"a":5.243,"v":-6.91},{"s":2,"a":5.250,"v":-7.19},{"s":2,"a":5.258,"v":-7.75},{"s":2,"a":5.265,"v":-7.47},{"s":2,"a":5.273,"v":-6.91},{"s":2,"a":5.280,"v":-6.63},{"s":2,"a":5.288,"v":-5.69},{"s":2,"a":5.295,"v":-6.77},{"s":2,"a":5.303,"v":-6.42},{"s":2,"a":5.310,"v":-6.63},{"s":2,"a":5.318,"v":-6.70},{"s":2,"a":5.325,"v":-6.98},{"s":2,"a":5.333,"v":-7.26},{"s":2,"a":5.340,"v":-7.05},{"s":2,"a":5.348,"v":-6.98},{"s":2,"a":5.355,"v":-6.84},{"s":2,"a":5.362,"v":-6.70},{"s":2,"a":5.370,"v":-6.91},{"s":2,"a":5.377,"v":-7.05},{"s":2,"a":5.385,"v":-6.77},{"s":2,"a":5.392,"v":-6.56},{"s":2,"a":5.400,"v":-6.49},{"s":2,"a":5.407,"v":-6.35},{"s":2,"a":5.415,"v":-6.21},{"s":2,"a":5.422,"v":-5.09},{"s":2,"a":5.430,"v":-4.53},{"s":2,"a":5.437,"v":-5.65},{"s":2,"a":5.445,"v":-4.25},{"s":2,"a":5.452,"v":-6.00},{"s":2,"a":5.460,"v":-6.49},{"s":2,"a":5.467,"v":-6.28},{"s":2,"a":5.475,"v":-6.77},{"s":2,"a":5.482,"v":-3.76},{"s":2,"a":5.489,"v":-7.05},{"s":2,"a":5.497,"v":-6.49},{"s":2,"a":5.504,"v":-7.19},{"s":2,"a":5.512,"v":-6.70},{"s":2,"a":5.519,"v":-6.77},{"s":2,"a":5.527,"v":-6.84},{"s":2,"a":5.534,"v":-6.77},{"s":2,"a":5.542,"v":-7.33},{"s":2,"a":5.549,"v":-7.61},{"s":2,"a":5.557,"v":-7.47},{"s":2,"a":5.564,"v":-6.70},{"s":2,"a":5.572,"v":-5.51},{"s":2,"a":5.579,"v":-6.49},{"s":2,"a":5.587,"v":-6.14},{"s":2,"a":5.594,"v":-6.35},{"s":2,"a":5.602,"v":-5.79},{"s":2,"a":5.609,"v":-6.49},{"s":2,"a":5.616,"v":-6.21},{"s":2,"a":5.624,"v":-7.19},{"s":2,"a":5.631,"v":-7.26},{"s":2,"a":5.639,"v":-7.54},{"s":2,"a":5.646,"v":-7.68},{"s":2,"a":5.654,"v":-7.82},{"s":2,"a":5.661,"v":-7.75},{"s":2,"a":5.669,"v":-7.96},{"s":2,"a":5.676,"v":-8.03},{"s":2,"a":5.684,"v":-7.61},{"s":2,"a":5.691,"v":-7.19},{"s":2,"a":5.699,"v":-6.00},{"s":2,"a":5.706,"v":-7.05},{"s":2,"a":5.713,"v":-6.77},{"s":2,"a":5.721,"v":-7.05},{"s":2,"a":5.728,"v":-7.19},{"s":2,"a":5.736,"v":-6.91},{"s":2,"a":5.743,"v":-7.05},{"s":2,"a":5.751,"v":-6.84},{"s":2,"a":5.758,"v":-6.98},{"s":2,"a":5.766,"v":-6.77},{"s":2,"a":5.773,"v":-6.91},{"s":2,"a":5.781,"v":-7.05},{"s":2,"a":5.788,"v":-6.84},{"s":2,"a":5.796,"v":-7.12},{"s":2,"a":5.803,"v":-6.91},{"s":2,"a":5.810,"v":-6.77},{"s":2,"a":5.818,"v":-6.84},{"s":2,"a":5.825,"v":-6.70},{"s":2,"a":5.833,"v":-6.56},{"s":2,"a":5.840,"v":-7.05},{"s":2,"a":5.848,"v":-7.26},{"s":2,"a":5.855,"v":-7.33},{"s":2,"a":5.863,"v":-7.26},{"s":2,"a":5.870,"v":-7.30},{"s":2,"a":5.878,"v":-7.33},{"s":2,"a":5.885,"v":-7.19},{"s":2,"a":5.893,"v":-7.05},{"s":2,"a":5.900,"v":-7.12},{"s":2,"a":5.908,"v":-7.19},{"s":2,"a":5.915,"v":-7.05},{"s":2,"a":5.923,"v":-7.47},{"s":2,"a":5.930,"v":-7.54},{"s":2,"a":5.937,"v":-7.40},{"s":2,"a":5.945,"v":-6.56},{"s":2,"a":5.952,"v":-7.05},{"s":2,"a":5.960,"v":-7.61},{"s":2,"a":5.967,"v":-7.82},{"s":2,"a":5.975,"v":-7.96},{"s":2,"a":5.982,"v":-7.75},{"s":2,"a":5.990,"v":-7.33},{"s":2,"a":5.997,"v":-7.61},{"s":2,"a":6.005,"v":-7.75}
 ],
 "c13blue": [
  {"a":3.358,"v":-7.65},{"a":3.371,"v":-7.44},{"a":3.381,"v":-7.30},{"a":3.391,"v":-7.05},{"a":3.398,"v":-6.84},{"a":3.406,"v":-6.74},{"a":3.411,"v":-6.28},{"a":3.413,"v":-6.56},{"a":3.416,"v":-6.07},{"a":3.418,"v":-5.41},{"a":3.436,"v":-7.37}
 ],
 "c13dash": [
  {"a":3.421,"v":-6.42},{"a":3.436,"v":-6.35},{"a":3.463,"v":-5.41},{"a":3.503,"v":-7.37},{"a":3.510,"v":-7.35},{"a":3.525,"v":-3.45}
 ]
},
"resolve": {"scale": {"color": "independent"}, "legend": {"color": "independent"}},
"vconcat": [
 {
  "resolve": {"scale": {"color": "independent"}, "legend": {"color": "independent"}},
  "hconcat": [
   {
    "width": 413, "height": 287,
    "title": {"text": "(A)", "dx": 9, "offset": 17, "dy": 4},
    "resolve": {"axis": {"x": "independent", "y": "independent"}},
    "layer": [
     {"data": {"name": "model"}, "mark": {"type": "area", "color": "#c6c6c6", "interpolate": "monotone", "clip": true},
      "encoding": {
       "x": {"field": "d", "type": "quantitative", "scale": {"domain": [74.5, 279.6], "nice": false, "zero": false},
             "axis": {"values": [100, 150, 200, 250], "title": "Distance from top (mm)", "titleFontSize": 23, "labelFontSize": 21, "tickSize": 5, "labelPadding": 3, "titlePadding": 8}},
       "y": {"field": "l", "type": "quantitative", "scale": {"domain": [2.8, 6.2], "nice": false, "zero": false},
             "axis": {"values": [3, 4, 5, 6], "title": "Age (ka, BP)", "titleFontSize": 23, "labelFontSize": 21, "tickSize": 5, "labelPadding": 15, "titlePadding": 18}},
       "y2": {"field": "h"}}},
     {"data": {"name": "model"}, "mark": {"type": "line", "interpolate": "monotone", "strokeWidth": 1.8, "clip": true},
      "encoding": {
       "x": {"field": "d", "type": "quantitative", "axis": null},
       "y": {"field": "m", "type": "quantitative", "axis": null},
       "color": {"datum": "COPRA", "scale": {"range": ["#2e3192"]}, "legend": {"labelColor": "#2e3192"}}}},
     {"data": {"name": "ages"}, "mark": {"type": "errorbar", "ticks": {"size": 7, "color": "#222"}, "rule": {"color": "#222", "strokeWidth": 1}},
      "encoding": {
       "x": {"field": "d", "type": "quantitative", "axis": null},
       "y": {"field": "lo", "type": "quantitative", "axis": null},
       "y2": {"field": "hi"}}},
     {"data": {"name": "ages"}, "mark": {"type": "point", "filled": true, "color": "#111", "size": 9, "opacity": 1},
      "encoding": {"x": {"field": "d", "type": "quantitative", "axis": null}, "y": {"field": "m", "type": "quantitative", "axis": null}}},
     {"data": {"values": [{"d": 83, "y": 5.91, "t": "LAVI-4"}]}, "mark": {"type": "text", "align": "left", "baseline": "middle", "fontSize": 22, "fontStyle": "italic", "fontWeight": "bold", "color": "#111"},
      "encoding": {"x": {"field": "d", "type": "quantitative", "axis": null}, "y": {"field": "y", "type": "quantitative", "axis": null}, "text": {"field": "t"}}},
     {"data": {"values": [{"d": 124.1, "y1": 4.10, "y2": 3.74}]}, "mark": {"type": "rule", "color": "#333", "strokeWidth": 1},
      "encoding": {"x": {"field": "d", "type": "quantitative", "axis": null}, "y": {"field": "y1", "type": "quantitative", "axis": null}, "y2": {"field": "y2"}}},
     {"data": {"values": [{"d": 124.1, "y": 3.74}]}, "mark": {"type": "point", "shape": "triangle-down", "filled": true, "color": "#333", "size": 30, "opacity": 1},
      "encoding": {"x": {"field": "d", "type": "quantitative", "axis": null}, "y": {"field": "y", "type": "quantitative", "axis": null}}},
     {"data": {"values": [{"d": 123.5, "y": 4.13, "t": "Hiatus"}]}, "mark": {"type": "text", "align": "left", "baseline": "middle", "angle": 270, "fontSize": 22, "fontStyle": "italic", "color": "#111"},
      "encoding": {"x": {"field": "d", "type": "quantitative", "axis": null}, "y": {"field": "y", "type": "quantitative", "axis": null}, "text": {"field": "t"}}},
     {"data": {"name": "model"}, "mark": {"type": "point", "opacity": 0},
      "encoding": {
       "x": {"field": "d", "type": "quantitative", "axis": {"values": [80, 90, 110, 120, 130, 140, 160, 170, 180, 190, 210, 220, 230, 240, 260, 270], "labels": false, "domain": false, "tickSize": 5, "title": null, "orient": "bottom"}},
       "y": {"field": "m", "type": "quantitative", "axis": {"values": [2.8, 2.9, 3.1, 3.2, 3.3, 3.4, 3.5, 3.6, 3.7, 3.8, 3.9, 4.1, 4.2, 4.3, 4.4, 4.5, 4.6, 4.7, 4.8, 4.9, 5.1, 5.2, 5.3, 5.4, 5.5, 5.6, 5.7, 5.8, 5.9, 6.1, 6.2], "labels": false, "domain": false, "tickSize": 5, "title": null, "orient": "left"}}}}
    ]
   },
   {
    "width": 393, "height": 287,
    "title": {"text": "(B)", "dx": 12, "offset": 17, "dy": 4},
    "resolve": {"axis": {"x": "independent", "y": "independent"}},
    "layer": [
     {"data": {"name": "model"}, "mark": {"type": "area", "color": "#c6c6c6", "interpolate": "monotone", "clip": true},
      "encoding": {
       "x": {"field": "d", "type": "quantitative", "scale": {"domain": [78.5, 274], "nice": false, "zero": false},
             "axis": {"values": [100, 150, 200, 250], "title": "Distance from top (mm)", "titleFontSize": 23, "labelFontSize": 21, "tickSize": 5, "labelPadding": 3, "titlePadding": 14}},
       "y": {"field": "l", "type": "quantitative", "scale": {"domain": [2.8, 6.2], "nice": false, "zero": false},
             "axis": {"values": [3, 4, 5, 6], "title": "Age (ka, BP)", "titleFontSize": 23, "labelFontSize": 21, "tickSize": 5, "labelPadding": 21, "titlePadding": 9}},
       "y2": {"field": "h"}}},
     {"data": {"name": "model"}, "mark": {"type": "line", "interpolate": "monotone", "strokeWidth": 1.8, "clip": true},
      "encoding": {
       "x": {"field": "d", "type": "quantitative", "axis": null},
       "y": {"field": "m", "type": "quantitative", "axis": null},
       "color": {"datum": "COPRA", "scale": {"range": ["#c1272d"]}, "legend": {"labelColor": "#c1272d"}}}},
     {"data": {"name": "ages"}, "mark": {"type": "errorbar", "ticks": {"size": 7, "color": "#222"}, "rule": {"color": "#222", "strokeWidth": 1}},
      "encoding": {
       "x": {"field": "d", "type": "quantitative", "axis": null},
       "y": {"field": "lo", "type": "quantitative", "axis": null},
       "y2": {"field": "hi"}}},
     {"data": {"name": "ages"}, "mark": {"type": "point", "filled": true, "color": "#111", "size": 9, "opacity": 1},
      "encoding": {"x": {"field": "d", "type": "quantitative", "axis": null}, "y": {"field": "m", "type": "quantitative", "axis": null}}},
     {"data": {"values": [{"d": 87.4, "y": 5.91, "t": "LAVI-4"}]}, "mark": {"type": "text", "align": "left", "baseline": "middle", "fontSize": 22, "fontStyle": "italic", "fontWeight": "bold", "color": "#111"},
      "encoding": {"x": {"field": "d", "type": "quantitative", "axis": null}, "y": {"field": "y", "type": "quantitative", "axis": null}, "text": {"field": "t"}}},
     {"data": {"values": [{"d": 122.2, "y1": 4.16, "y2": 3.83}]}, "mark": {"type": "rule", "color": "#333", "strokeWidth": 1},
      "encoding": {"x": {"field": "d", "type": "quantitative", "axis": null}, "y": {"field": "y1", "type": "quantitative", "axis": null}, "y2": {"field": "y2"}}},
     {"data": {"values": [{"d": 122.2, "y": 3.83}]}, "mark": {"type": "point", "shape": "triangle-down", "filled": true, "color": "#333", "size": 30, "opacity": 1},
      "encoding": {"x": {"field": "d", "type": "quantitative", "axis": null}, "y": {"field": "y", "type": "quantitative", "axis": null}}},
     {"data": {"values": [{"d": 121.7, "y": 4.21, "t": "slow growth"}]}, "mark": {"type": "text", "align": "left", "baseline": "middle", "angle": 270, "fontSize": 22, "fontStyle": "italic", "color": "#111"},
      "encoding": {"x": {"field": "d", "type": "quantitative", "axis": null}, "y": {"field": "y", "type": "quantitative", "axis": null}, "text": {"field": "t"}}},
     {"data": {"name": "model"}, "mark": {"type": "point", "opacity": 0},
      "encoding": {
       "x": {"field": "d", "type": "quantitative", "axis": {"values": [80, 90, 110, 120, 130, 140, 160, 170, 180, 190, 210, 220, 230, 240, 260, 270], "labels": false, "domain": false, "tickSize": 5, "title": null, "orient": "bottom"}},
       "y": {"field": "m", "type": "quantitative", "axis": {"values": [2.8, 2.9, 3.1, 3.2, 3.3, 3.4, 3.5, 3.6, 3.7, 3.8, 3.9, 4.1, 4.2, 4.3, 4.4, 4.5, 4.6, 4.7, 4.8, 4.9, 5.1, 5.2, 5.3, 5.4, 5.5, 5.6, 5.7, 5.8, 5.9, 6.1, 6.2], "labels": false, "domain": false, "tickSize": 5, "title": null, "orient": "left"}}}}
    ]
   }
  ],
  "spacing": 16
 },
 {
  "resolve": {"scale": {"color": "independent"}, "legend": {"color": "independent"}},
  "hconcat": [
   {
    "width": 399, "height": 381,
    "title": {"text": "(C)", "dx": 26, "offset": 9, "dy": 12},
    "resolve": {"axis": {"x": "independent", "y": "independent"}},
    "layer": [
     {"data": {"name": "o18blue"}, "mark": {"type": "line", "color": "#3a3aa8", "strokeWidth": 1.3, "clip": true},
      "encoding": {
       "x": {"field": "a", "type": "quantitative", "scale": {"domain": [3, 6], "nice": false, "zero": false},
             "axis": {"values": [3, 4, 5, 6], "title": "Age(ka BP)", "titleColor": "#858585", "titleFontSize": 23, "labelFontSize": 25, "tickSize": 8, "labelPadding": 3, "titlePadding": 2}},
       "y": {"field": "v", "type": "quantitative", "scale": {"domain": [-6, -1], "reverse": true, "nice": false, "zero": false},
             "axis": {"values": [-6, -5, -4, -3, -2, -1], "labelExpr": "'' + datum.value", "title": "δ¹⁸O (‰, VPDB)", "titleFontSize": 23, "labelFontSize": 25, "tickSize": 4, "labelPadding": 5, "titlePadding": 18}}}},
     {"data": {"name": "o18"}, "mark": {"type": "line", "color": "#c8102e", "strokeWidth": 1.3, "opacity": 0.9, "clip": true},
      "encoding": {
       "x": {"field": "a", "type": "quantitative", "axis": null},
       "y": {"field": "v", "type": "quantitative", "axis": null},
       "detail": {"field": "s", "type": "nominal"}}},
     {"data": {"name": "o18dash"}, "mark": {"type": "line", "color": "#b5203f", "strokeWidth": 1.3, "strokeDash": [4, 3], "clip": true},
      "encoding": {
       "x": {"field": "a", "type": "quantitative", "axis": null},
       "y": {"field": "v", "type": "quantitative", "axis": null}}},
     {"data": {"name": "o18dash"}, "mark": {"type": "point", "opacity": 0},
      "encoding": {
       "x": {"field": "a", "type": "quantitative", "axis": {"values": [3.1, 3.2, 3.3, 3.4, 3.5, 3.6, 3.7, 3.8, 3.9, 4.1, 4.2, 4.3, 4.4, 4.5, 4.6, 4.7, 4.8, 4.9, 5.1, 5.2, 5.3, 5.4, 5.5, 5.6, 5.7, 5.8, 5.9], "labels": false, "domain": false, "tickSize": 8, "title": null, "orient": "bottom"}},
       "y": {"field": "v", "type": "quantitative", "axis": null}}}
    ]
   },
   {
    "width": 401, "height": 381,
    "title": {"text": "(D)", "dx": 13, "offset": 9, "dy": 9},
    "resolve": {"axis": {"x": "independent", "y": "independent"}},
    "layer": [
     {"data": {"name": "c13blue"}, "mark": {"type": "line", "color": "#3a3aa8", "strokeWidth": 1.3, "clip": true},
      "encoding": {
       "x": {"field": "a", "type": "quantitative", "scale": {"domain": [3, 6], "nice": false, "zero": false},
             "axis": {"values": [3, 4, 5, 6], "title": "Age(ka BP)", "titleColor": "#858585", "titleFontSize": 23, "labelFontSize": 25, "tickSize": 8, "labelPadding": 3, "titlePadding": 2}},
       "y": {"field": "v", "type": "quantitative", "scale": {"domain": [-9, -1], "reverse": true, "nice": false, "zero": false},
             "axis": {"values": [-9, -8, -7, -6, -5, -4, -3, -2, -1], "labelExpr": "'' + datum.value", "title": "δ¹³C (‰, VPDB)", "titleFontSize": 23, "labelFontSize": 25, "tickSize": 4, "labelPadding": 5, "titlePadding": 10}}}},
     {"data": {"name": "c13"}, "mark": {"type": "line", "color": "#c8102e", "strokeWidth": 1.3, "opacity": 0.9, "clip": true},
      "encoding": {
       "x": {"field": "a", "type": "quantitative", "axis": null},
       "y": {"field": "v", "type": "quantitative", "axis": null},
       "detail": {"field": "s", "type": "nominal"}}},
     {"data": {"name": "c13dash"}, "mark": {"type": "line", "color": "#b5203f", "strokeWidth": 1.3, "strokeDash": [4, 3], "clip": true},
      "encoding": {
       "x": {"field": "a", "type": "quantitative", "axis": null},
       "y": {"field": "v", "type": "quantitative", "axis": null}}},
     {"data": {"name": "c13dash"}, "mark": {"type": "point", "opacity": 0},
      "encoding": {
       "x": {"field": "a", "type": "quantitative", "axis": {"values": [3.1, 3.2, 3.3, 3.4, 3.5, 3.6, 3.7, 3.8, 3.9, 4.1, 4.2, 4.3, 4.4, 4.5, 4.6, 4.7, 4.8, 4.9, 5.1, 5.2, 5.3, 5.4, 5.5, 5.6, 5.7, 5.8, 5.9], "labels": false, "domain": false, "tickSize": 8, "title": null, "orient": "bottom"}},
       "y": {"field": "v", "type": "quantitative", "axis": null}}}
    ]
   }
  ],
  "spacing": 53
 }
],
"spacing": 14
}
